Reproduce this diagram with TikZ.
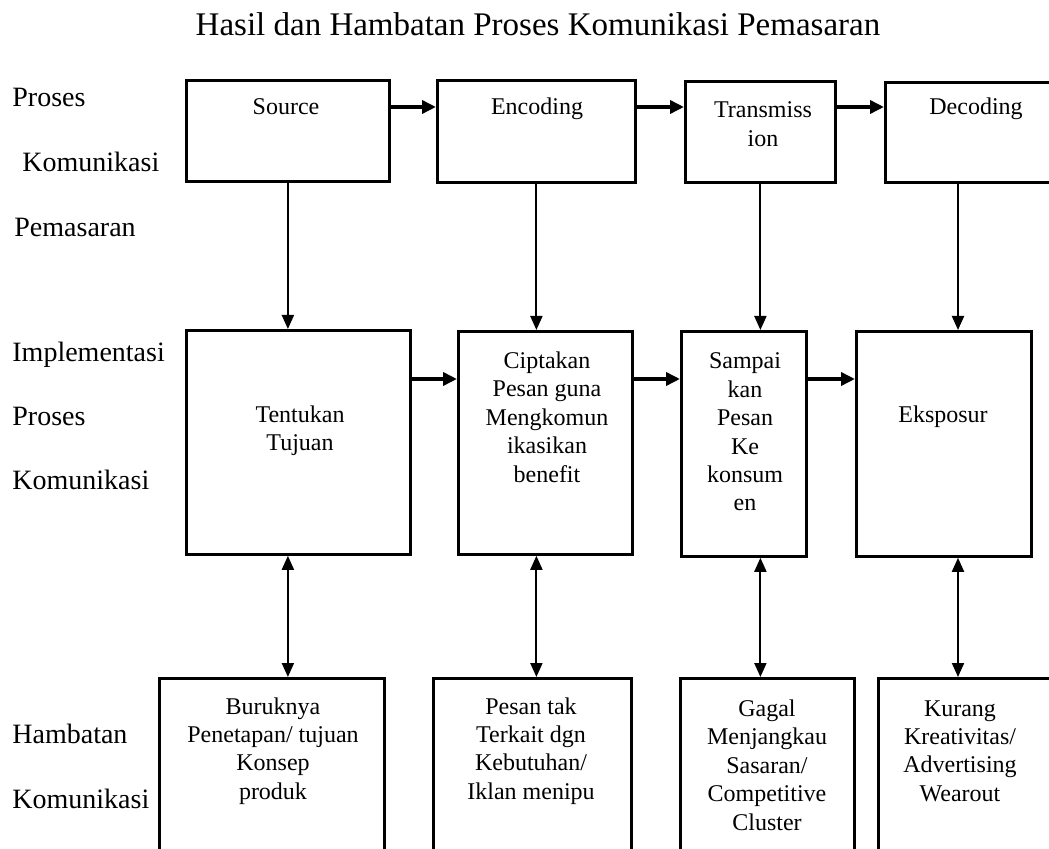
\documentclass[tikz,border=0pt]{standalone}
\usepackage{fontspec}
\setmainfont{Liberation Serif}
\usetikzlibrary{arrows.meta,positioning}

\tikzset{
  box/.style={draw, line width=1.4pt, inner sep=0pt, anchor=north west},
  boxtext/.style={align=center, inner sep=0pt, font=\fontsize{12}{14.2}\selectfont},
  side/.style={anchor=base west, inner sep=0pt, font=\fontsize{14}{16}\selectfont},
  flow/.style={line width=2pt, -{Triangle[length=7pt,width=6.5pt]}},
  link/.style={line width=1pt, -{Triangle[length=7pt,width=6pt]}},
  twoway/.style={line width=1pt, {Triangle[length=7pt,width=6pt]}-{Triangle[length=7pt,width=6pt]}}
}

\begin{document}
\begin{tikzpicture}[x=0.5pt,y=-0.5pt]
\useasboundingbox (0,0) rectangle (1049,849);
\clip (0,0) rectangle (1049,849);

\node[anchor=base, inner sep=0pt, font=\fontsize{16.5}{18}\selectfont] (title) at (538,36)
  {Hasil dan Hambatan Proses Komunikasi Pemasaran};

% labels on the left
\node[side] (l1) at (12,107) {Proses};
\node[side] (l2) at (22,172) {Komunikasi};
\node[side] (l3) at (14,237) {Pemasaran};
\node[side] (l4) at (12,362) {Implementasi};
\node[side] (l5) at (12,426) {Proses};
\node[side] (l6) at (12,490) {Komunikasi};
\node[side] (l7) at (12,743) {Hambatan};
\node[side] (l8) at (12,808) {Komunikasi};

% proses komunikasi pemasaran
\node[box, minimum width=101.5pt, minimum height=50.5pt] (src) at (185,79) {};
\node[box, minimum width=99pt, minimum height=51pt] (enc) at (436,79) {};
\node[box, minimum width=75pt, minimum height=50.5pt] (trn) at (684,80) {};
\node[box, minimum width=100pt, minimum height=50pt] (dec) at (884,81) {};
\node[boxtext] (srcT) at (286,107) {Source};
\node[boxtext] (encT) at (537,109) {Encoding};
\node[boxtext] (trnT) at (763,124) {Transmiss\\ion};
\node[boxtext] (decT) at (976,109) {Decoding};
\coordinate (decx) at (958,181);

% implementasi
\node[box, minimum width=112pt, minimum height=112pt] (tuj) at (185,329) {};
\node[box, minimum width=87pt, minimum height=111.5pt] (cip) at (457,330) {};
\node[box, minimum width=62.5pt, minimum height=112.5pt] (smp) at (680,330) {};
\node[box, minimum width=87.5pt, minimum height=112.5pt] (eks) at (855,330) {};
\node[boxtext] (tujT) at (300,431) {Tentukan\\Tujuan};
\node[boxtext] (cipT) at (547,417) {Ciptakan\\Pesan guna\\Mengkomun\\ikasikan\\benefit};
\node[boxtext] (smpT) at (745,432) {Sampai\\kan\\Pesan\\Ke\\konsum\\en};
\node[boxtext] (eksT) at (943,417) {Eksposur};
\coordinate (midrow) at (0,379);

% hambatan
\node[box, minimum width=112.5pt, minimum height=110pt] (h1) at (158,677) {};
\node[box, minimum width=99pt, minimum height=110pt] (h2) at (432,677) {};
\node[box, minimum width=87pt, minimum height=110pt] (h3) at (679,677) {};
\node[box, minimum width=100pt, minimum height=110pt] (h4) at (877,677) {};
\node[boxtext] (h1T) at (273,751) {Buruknya\\Penetapan/ tujuan\\Konsep\\produk};
\node[boxtext] (h2T) at (531,751) {Pesan tak\\Terkait dgn\\Kebutuhan/\\Iklan menipu};
\node[boxtext] (h3T) at (767,765) {Gagal\\Menjangkau\\Sasaran/\\Competitive\\Cluster};
\node[boxtext] (h4T) at (960,751) {Kurang\\Kreativitas/\\Advertising\\Wearout};

% arrows
\draw[flow] (src.east |- srcT) -- (enc.west |- srcT);
\draw[flow] (enc.east |- srcT) -- (trn.west |- srcT);
\draw[flow] (trn.east |- srcT) -- (dec.west |- srcT);
\draw[flow] (tuj.east |- midrow) -- (cip.west |- midrow);
\draw[flow] (cip.east |- midrow) -- (smp.west |- midrow);
\draw[flow] (smp.east |- midrow) -- (eks.west |- midrow);

\draw[link] (src.south) -- (src.south |- tuj.north);
\draw[link] (enc.south) -- (enc.south |- cip.north);
\draw[link] (trn.south) -- (trn.south |- smp.north);
\draw[link] (decx) -- (decx |- eks.north);

\draw[twoway] (src.south |- tuj.south) -- (src.south |- h1.north);
\draw[twoway] (enc.south |- cip.south) -- (enc.south |- h2.north);
\draw[twoway] (trn.south |- smp.south) -- (trn.south |- h3.north);
\draw[twoway] (decx |- eks.south) -- (decx |- h4.north);

\end{tikzpicture}
\end{document}
